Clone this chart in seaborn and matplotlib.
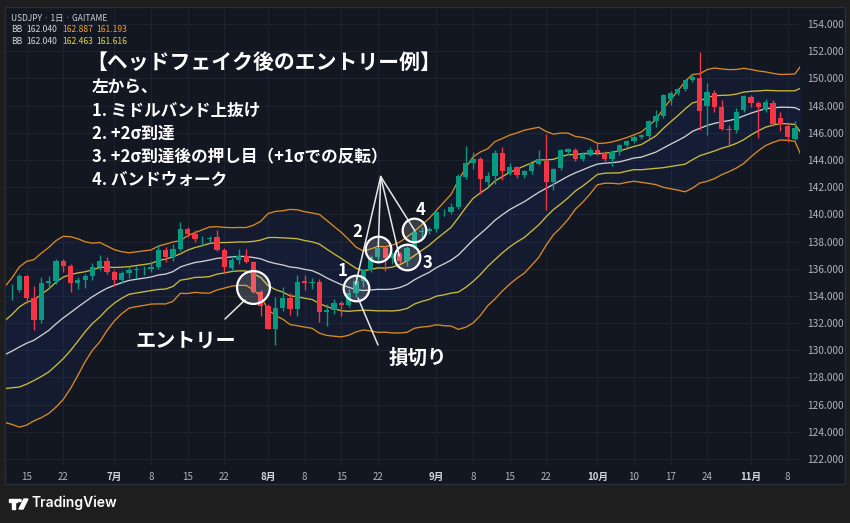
import numpy as np
import pandas as pd
import matplotlib.pyplot as plt
import seaborn as sns
from matplotlib.patches import Rectangle, Circle, Polygon

W, H = 850, 523

# closes before the first visible bar (2022-05-13 .. 2022-06-10), only used for the bands
hist_close = [129.2, 129.1, 129.4, 128.3, 127.8, 127.9, 127.9, 126.9, 127.3, 127.1,
              127.1, 127.6, 128.7, 130.0, 129.9, 130.9, 131.9, 132.6, 134.2, 134.4, 134.4]

# USDJPY daily, 2022-06-13 .. 2022-11-10 (last bar sits under the price scale)
opens = [134.40, 134.45, 135.45, 133.85, 132.20, 134.95, 135.10, 136.60, 136.20, 134.95,
         135.20, 135.45, 136.15, 136.60, 135.75, 135.20, 135.70, 135.90, 135.95, 136.00,
         136.10, 137.40, 136.85, 137.45, 138.95, 138.55, 138.15, 138.20, 138.30, 137.40,
         136.05, 136.65, 136.90, 136.50, 134.25, 133.25, 131.60, 133.10, 133.85, 133.00,
         135.10, 134.95, 135.05, 132.85, 132.95, 133.45, 133.30, 134.20, 135.10, 135.90,
         136.85, 137.50, 136.75, 137.10, 136.55, 137.60, 138.70, 138.80, 138.95, 140.15,
         140.15, 140.55, 142.75, 143.75, 144.05, 142.35, 142.80, 144.50, 143.05, 143.45,
         142.90, 143.15, 143.70, 143.95, 142.35, 143.40, 144.60, 144.75, 144.05, 144.40,
         144.70, 144.50, 144.05, 144.55, 145.10, 145.40, 145.70, 145.75, 146.85, 147.20,
         148.50, 148.95, 149.20, 149.85, 150.05, 147.95, 148.90, 147.90, 146.30, 146.20,
         147.65, 148.65, 148.20, 147.70, 148.20, 147.10, 146.50, 145.55, 146.35]
highs = [134.90, 135.60, 135.55, 134.70, 135.40, 135.45, 136.70, 136.70, 136.35, 135.40,
         135.60, 136.40, 137.00, 136.85, 135.90, 135.80, 136.20, 136.20, 136.20, 136.55,
         137.75, 137.60, 137.85, 139.40, 139.05, 138.85, 138.40, 138.40, 138.85, 137.50,
         136.95, 137.45, 137.45, 136.60, 134.40, 133.40, 133.90, 134.65, 134.20, 135.50,
         135.55, 135.30, 135.25, 133.40, 133.75, 133.60, 134.50, 135.45, 135.95, 137.00,
         137.65, 137.70, 137.25, 137.20, 137.70, 138.95, 139.05, 139.10, 140.25, 140.40,
         140.80, 143.00, 144.99, 144.55, 144.20, 143.10, 144.70, 144.95, 143.80, 143.55,
         143.25, 143.80, 144.70, 145.90, 143.40, 144.80, 144.90, 144.90, 144.60, 144.95,
         145.30, 144.65, 144.75, 145.20, 145.45, 145.80, 145.90, 146.95, 147.65, 148.85,
         149.10, 149.30, 149.90, 150.30, 151.95, 149.65, 149.15, 148.40, 146.55, 147.85,
         148.80, 148.80, 148.35, 148.50, 148.40, 147.55, 146.70, 146.85, 146.60]
lows = [133.70, 134.30, 133.50, 131.50, 132.00, 134.60, 134.90, 135.75, 134.25, 134.50,
        134.55, 135.20, 135.90, 135.60, 134.75, 134.95, 135.35, 135.30, 135.55, 135.75,
        135.95, 136.50, 136.60, 137.30, 138.30, 137.95, 137.65, 137.90, 137.30, 135.70,
        135.85, 136.35, 136.40, 134.20, 132.50, 131.55, 130.40, 132.90, 132.60, 132.50,
        134.40, 134.50, 132.10, 131.75, 132.70, 132.55, 133.20, 133.95, 134.65, 135.75,
        136.60, 135.80, 136.35, 136.40, 136.20, 137.50, 138.20, 138.55, 138.70, 139.90,
        140.05, 140.40, 142.60, 143.35, 141.50, 142.05, 142.20, 142.55, 142.90, 142.70,
        142.65, 142.95, 143.60, 140.35, 141.80, 143.25, 144.40, 143.90, 143.90, 144.30,
        144.40, 143.90, 143.55, 144.40, 144.85, 145.25, 145.55, 145.60, 146.40, 147.10,
        148.05, 148.80, 149.10, 149.70, 146.20, 145.80, 147.55, 146.20, 145.10, 146.00,
        147.50, 147.90, 145.60, 147.50, 146.50, 146.10, 145.35, 145.50, 141.80]
closes = [134.45, 135.45, 133.85, 132.20, 134.95, 135.10, 136.60, 136.20, 134.95, 135.20,
          135.45, 136.15, 136.60, 135.75, 135.20, 135.70, 135.90, 135.95, 136.00, 136.10,
          137.40, 136.85, 137.45, 138.95, 138.55, 138.15, 138.20, 138.25, 137.40, 136.10,
          136.65, 136.90, 136.50, 134.25, 133.25, 131.60, 133.10, 133.85, 133.00, 135.00,
          134.95, 135.05, 132.85, 132.95, 133.45, 133.30, 134.20, 135.10, 135.90, 136.85,
          137.55, 136.75, 137.10, 136.55, 137.50, 138.70, 138.80, 138.95, 140.15, 140.20,
          140.55, 142.80, 143.75, 144.05, 142.60, 142.80, 144.50, 143.15, 143.45, 142.90,
          143.20, 143.75, 144.05, 142.35, 143.30, 144.70, 144.80, 144.05, 144.45, 144.75,
          144.50, 144.10, 144.60, 145.10, 145.40, 145.70, 145.80, 146.85, 147.20, 148.75,
          148.95, 149.20, 149.85, 150.10, 147.60, 149.00, 147.90, 146.30, 146.20, 147.50,
          148.70, 148.20, 147.90, 148.25, 146.65, 146.65, 145.70, 146.35, 142.30]

tick_dates = ['2022-06-15', '2022-06-22', '2022-07-01', '2022-07-08', '2022-07-15',
              '2022-07-22', '2022-08-01', '2022-08-08', '2022-08-15', '2022-08-22',
              '2022-09-01', '2022-09-08', '2022-09-15', '2022-09-22', '2022-10-03',
              '2022-10-10', '2022-10-17', '2022-10-24', '2022-11-01', '2022-11-08']
tick_labels = ['15', '22', '7月', '8', '15', '22', '8月', '8', '15', '22',
               '9月', '8', '15', '22', '10月', '10', '17', '24', '11月', '8']

# annotation anchors: (date, price)
entry_pt = ('2022-07-28', 134.65)
marks = [('1', '2022-08-17', 134.58), ('2', '2022-08-22', 137.45),
         ('3', '2022-08-26', 136.86), ('4', '2022-08-29', 138.85)]

UP, DOWN = '#089981', '#f23645'
ORANGE, YELLOW, MIDC = '#d98a1c', '#c9bb35', '#cfcfcf'
BG = '#131722'
TXT = '#b2b5be'

dates = pd.bdate_range('2022-06-13', periods=len(closes))
df = pd.DataFrame({'open': opens, 'high': highs, 'low': lows, 'close': closes}, index=dates)
df['x'] = np.arange(len(df))
pos = {d.strftime('%Y-%m-%d'): i for i, d in enumerate(dates)}

allc = pd.Series(hist_close + closes, index=np.arange(-len(hist_close), len(closes)))
mid = allc.rolling(20).mean()
sd = allc.rolling(20).std(ddof=0)
bands = pd.DataFrame({'x': allc.index, 'mid': mid, 'up1': mid + sd, 'lo1': mid - sd,
                      'up2': mid + 2 * sd, 'lo2': mid - 2 * sd}).dropna()

sns.set_theme(style='dark', rc={'axes.facecolor': BG, 'figure.facecolor': '#1e1e1f'})
plt.rcParams['font.family'] = ['Noto Sans CJK JP', 'DejaVu Sans']

fig = plt.figure(figsize=(W / 100, H / 100), dpi=100)
fig.patches.append(Rectangle((5 / W, 1 - 484 / H), 840 / W, 477 / H, transform=fig.transFigure,
                             facecolor=BG, edgecolor='#2a2e39', lw=1, zorder=-1))

# px helpers: bar i at 12 + 7.317*i, price p at 24 + (154 - p)*13.594
ax = fig.add_axes([6 / W, 1 - 465 / H, 794 / W, 455 / H])
ax.set_xlim(-6 / 7.317, 788 / 7.317)
ax.set_ylim(154 - 441 / 13.594, 154 + 14 / 13.594)

# bands
ax.fill_between(bands.x, bands.lo2, bands.up2, color='#2962ff', alpha=0.055, lw=0)
ax.fill_between(bands.x, bands.lo1, bands.up1, color='#2962ff', alpha=0.035, lw=0)
for col, c in [('up2', ORANGE), ('lo2', ORANGE), ('up1', YELLOW), ('lo1', YELLOW), ('mid', MIDC)]:
    sns.lineplot(data=bands, x='x', y=col, color=c, lw=0.95, ax=ax, zorder=2)

# candles
cols = np.where(df.close >= df.open, UP, DOWN)
ax.vlines(df.x, df.low, df.high, colors=cols, lw=1, zorder=3)
ax.bar(df.x, np.maximum((df.close - df.open).abs(), 0.05), bottom=np.minimum(df.open, df.close),
       width=0.72, color=cols, lw=0, zorder=4)

# grid / axes
ax.set_xticks([pos[d] for d in tick_dates])
ax.set_xticklabels(tick_labels)
ax.set_yticks(np.arange(122, 155, 2))
ax.set_yticklabels([f'{v:.3f}' for v in np.arange(122, 155, 2)])
ax.yaxis.tick_right()
ax.grid(True, color='#1f2330', lw=0.8)
ax.tick_params(axis='y', length=0, pad=5, labelsize=7.3, labelcolor=TXT)
ax.tick_params(axis='x', length=0, pad=5, labelsize=7, labelcolor=TXT)
for lab in ax.get_xticklabels():
    if '月' in lab.get_text():
        lab.set_fontweight('bold')
        lab.set_color('#d1d4dc')
for s in ax.spines.values():
    s.set_visible(False)
ax.set_xlabel('')
ax.set_ylabel('')

# annotations
LC = '#e6e6e6'
apex = (50.39, 142.78)
line_ends = [(46.97, 134.87), (50.06, 137.62), (52.93, 136.93), (55.08, 138.77)]
for ex, ey in line_ends:
    ax.plot([apex[0], ex], [apex[1], ey], color=LC, lw=1.1, zorder=5)
ax.plot([29.11, 31.84], [132.30, 133.70], color=LC, lw=1.1, zorder=5)
ax.plot([47.29, 50.02], [133.84, 130.39], color=LC, lw=1.1, zorder=5)

ax.scatter([pos[entry_pt[0]]], [entry_pt[1]], s=560, facecolor=(1, 1, 1, 0.16),
           edgecolor='white', linewidth=1.6, zorder=6)
offsets = [(-9.4, 12.2), (-15.1, 12.2), (14.4, -4.3), (4.3, 14.4)]
sizes = [340, 340, 340, 290]
for (lab, d, p), off, s in zip(marks, offsets, sizes):
    ax.scatter([pos[d]], [p], s=s, facecolor=(1, 1, 1, 0.16), edgecolor='white',
               linewidth=1.6, zorder=6)
    ax.annotate(lab, (pos[d], p), xytext=off, textcoords='offset points', ha='center',
                va='center', color='white', fontsize=12, fontweight='bold', zorder=7)


def px(x, y):
    return x / W, 1 - y / H


fig.text(*px(86, 62), '【ヘッドフェイク後のエントリー例】', color='white', fontsize=15,
         fontweight='bold', va='center', ha='left')
notes = ['左から、', '1. ミドルバンド上抜け', '2. +2σ到達', '3. +2σ到達後の押し目（+1σでの反転）', '4. バンドウォーク']
for i, t in enumerate(notes):
    fig.text(*px(92, 88 + i * 23), t, color='white', fontsize=12, fontweight='bold',
             va='center', ha='left')
fig.text(*px(186, 340), 'エントリー', color='white', fontsize=14.5, fontweight='bold',
         va='center', ha='center')
fig.text(*px(418, 358), '損切り', color='white', fontsize=14, fontweight='bold',
         va='center', ha='center')

# header legend
fig.text(*px(11, 19), 'USDJPY · 1日 · GAITAME', color='#d1d4dc', fontsize=6, va='center')
for y, c, vals in [(30, '#f0a020', ('162.887', '161.193')), (41.5, '#e5d43e', ('162.463', '161.616'))]:
    fig.text(*px(11, y), 'BB', color='#d1d4dc', fontsize=6.2, va='center')
    fig.text(*px(26.5, y), '162.040', color='#d1d4dc', fontsize=6.2, va='center')
    fig.text(*px(62, y), vals[0], color=c, fontsize=6.2, va='center')
    fig.text(*px(96.5, y), vals[1], color=c, fontsize=6.2, va='center')

# footer logo
fig.patches.append(Rectangle(px(9, 502), 8 / W, 3 / H, transform=fig.transFigure, color='white'))
fig.patches.append(Rectangle(px(12, 509), 3 / W, 7 / H, transform=fig.transFigure, color='white'))
fig.patches.append(Circle(px(19.5, 500.5), 1.8 / W, transform=fig.transFigure, color='white'))
fig.patches.append(Polygon([px(19, 509), px(23, 509), px(28, 499), px(24, 499)],
                           closed=True, transform=fig.transFigure, color='white'))
fig.text(*px(31, 503), 'TradingView', color='white', fontsize=10, fontweight='semibold',
         family=['Inter', 'DejaVu Sans'], va='center', ha='left')

fig.savefig('out.png', dpi=100, facecolor=fig.get_facecolor())
